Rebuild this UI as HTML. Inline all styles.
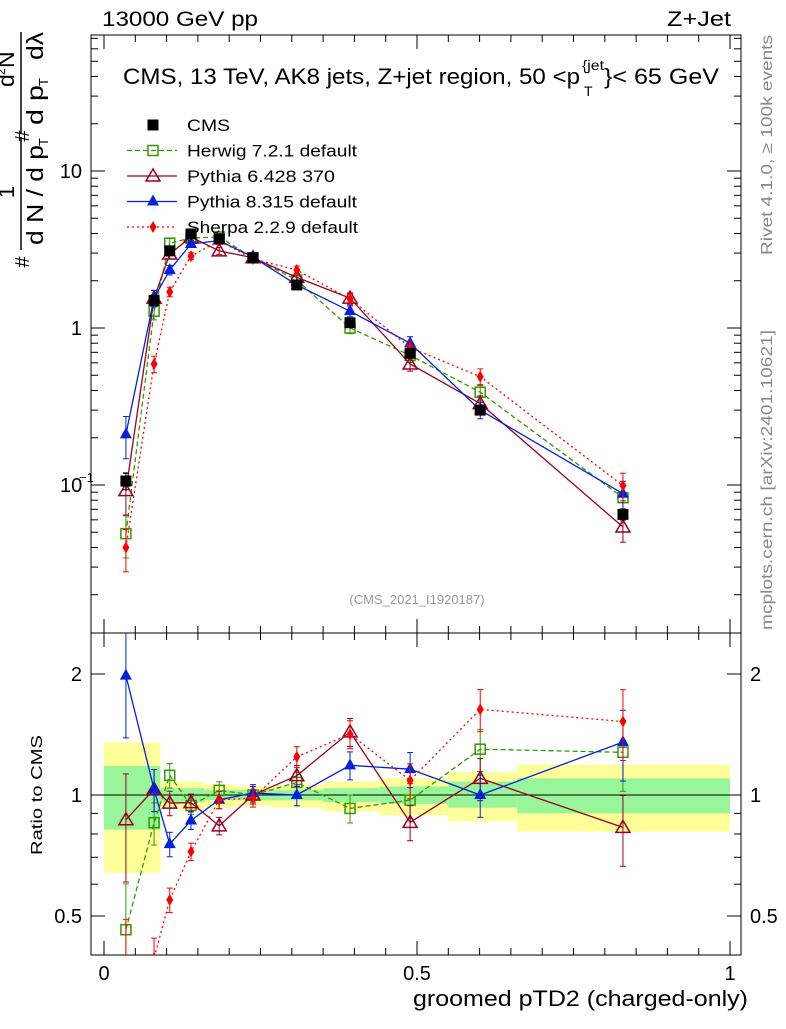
<!DOCTYPE html>
<html><head><meta charset="utf-8"><style>
body{margin:0;background:#fff;}
svg{font-family:"Liberation Sans",Arial,sans-serif;}
</style></head><body>
<svg id="c" width="786" height="1024" viewBox="0 0 786 1024"></svg>
<script>
const xs=[0.035,0.080,0.105,0.139,0.184,0.238,0.308,0.393,0.489,0.601,0.829];
const cms=[0.106,1.5,3.1,3.97,3.7,2.8,1.88,1.08,0.69,0.30,0.065];
const herwig=[0.049,1.28,3.47,3.74,3.8,2.8,2.02,1.0,0.67,0.39,0.083];
const py6=[0.092,1.55,2.96,3.8,3.1,2.8,2.1,1.55,0.59,0.33,0.054];
const py8=[0.21,1.55,2.34,3.43,3.6,2.83,1.88,1.28,0.80,0.30,0.088];
const sherpa=[0.040,0.59,1.7,2.87,3.6,2.75,2.34,1.53,0.75,0.49,0.099];
const relErr=[0.3,0.12,0.07,0.05,0.05,0.05,0.06,0.08,0.1,0.12,0.2];
const bandEdges=[0,0.09,0.12,0.16,0.21,0.27,0.35,0.44,0.55,0.66,1.0];
const yellowHi=[1.35,1.08,1.08,1.06,1.05,1.06,1.08,1.10,1.14,1.19];
const yellowLo=[0.64,0.93,0.92,0.93,0.94,0.93,0.91,0.89,0.86,0.81];
const greenHi=[1.18,1.04,1.04,1.03,1.03,1.03,1.04,1.05,1.08,1.10];
const greenLo=[0.82,0.96,0.96,0.97,0.97,0.97,0.96,0.95,0.93,0.90];
const NS='http://www.w3.org/2000/svg';const svg=document.getElementById('c');
function el(t,a,p){const e=document.createElementNS(NS,t);for(const k in a)e.setAttribute(k,a[k]);(p||svg).appendChild(e);return e;}
const X=v=>104+626*v;
const Y=v=>328-157*Math.log10(v);
const R=v=>795-402*Math.log10(v);
const L=91,Rr=741,T=35,M=633,B=955;
const bands=el('g',{});
for(let i=0;i<yellowHi.length;i++){
 const x0=X(bandEdges[i]),x1=X(bandEdges[i+1]);
 el('rect',{x:x0,y:R(yellowHi[i]),width:x1-x0,height:R(yellowLo[i])-R(yellowHi[i]),fill:'#ffff99'},bands);
 el('rect',{x:x0,y:R(greenHi[i]),width:x1-x0,height:R(greenLo[i])-R(greenHi[i]),fill:'#99f599'},bands);
}
el('line',{x1:L,x2:Rr,y1:R(1),y2:R(1),stroke:'#000','stroke-width':1});
const f1=el('rect',{x:L,y:T,width:Rr-L,height:M-T,fill:'none',stroke:'#000'});
const f2=el('rect',{x:L,y:M,width:Rr-L,height:B-M,fill:'none',stroke:'#000'});
for(let i=0;i<=20;i++){const v=i*0.05,x=X(v),big=i%10==0,len=big?14:7;
 [[T,1],[M,-1],[M,1],[B,-1]].forEach(([y,d])=>el('line',{x1:x,x2:x,y1:y,y2:y+d*len,stroke:'#000'}));}
['0','0.5','1'].forEach((s,i)=>{const t=el('text',{x:X(i*0.5),y:980,'font-size':20,'text-anchor':'middle'});t.textContent=s;});
for(let d=-2;d<=1;d++)for(let m=1;m<10;m++){const v=m*Math.pow(10,d),y=Y(v);if(y<T||y>M)continue;const len=m==1?14:7;
 el('line',{x1:L,x2:L+len,y1:y,y2:y,stroke:'#000'});el('line',{x1:Rr,x2:Rr-len,y1:y,y2:y,stroke:'#000'});}
[['10',10],['1',1]].forEach(([s,v])=>{const t=el('text',{x:82,y:Y(v)+7,'font-size':20,'text-anchor':'end'});t.textContent=s;});
{const t=el('text',{x:60,y:Y(0.1)+7,'font-size':20});t.textContent='10';
 const s=el('text',{x:79,y:Y(0.1)-3,'font-size':13});s.textContent='−1';}
const rt=[0.4,0.5,0.6,0.7,0.8,0.9,1,2];
rt.forEach(v=>{const y=R(v);if(y>B||y<M)return;const len=(v==0.5||v==1||v==2)?14:7;
 el('line',{x1:L,x2:L+len,y1:y,y2:y,stroke:'#000'});el('line',{x1:Rr,x2:Rr-len,y1:y,y2:y,stroke:'#000'});});
[['0.5',0.5],['1',1],['2',2]].forEach(([s,v])=>{[[82,'end'],[750,'start']].forEach(([x,a])=>{const t=el('text',{x:x,y:R(v)+7,'font-size':20,'text-anchor':a});t.textContent=s;});});
const series=[
 {n:'herwig',d:herwig,c:'#339900',dash:'5,3',m:'osq'},
 {n:'pythia6',d:py6,c:'#990022',dash:'',m:'otri'},
 {n:'pythia8',d:py8,c:'#0022dd',dash:'',m:'tri'},
 {n:'sherpa',d:sherpa,c:'#ff0000',dash:'2,3',m:'dia'}];
function marker(g,m,x,y,c){
 if(m=='sq')el('rect',{x:x-5.5,y:y-5.5,width:11,height:11,fill:c},g);
 if(m=='osq')el('rect',{x:x-5,y:y-5,width:10,height:10,fill:'none',stroke:c,'stroke-width':1.5},g);
 if(m=='otri')el('polygon',{points:`${x},${y-7} ${x-7},${y+5} ${x+7},${y+5}`,fill:'none',stroke:c,'stroke-width':1.5},g);
 if(m=='tri')el('polygon',{points:`${x},${y-7} ${x-6},${y+4} ${x+6},${y+4}`,fill:c},g);
 if(m=='dia')el('polygon',{points:`${x},${y-6} ${x-3.5},${y} ${x},${y+6} ${x+3.5},${y}`,fill:c},g);
}
function errbar(g,x,y1,y2,c){el('line',{x1:x,x2:x,y1:y1,y2:y2,stroke:c},g);el('line',{x1:x-3,x2:x+3,y1:y1,y2:y1,stroke:c},g);el('line',{x1:x-3,x2:x+3,y1:y2,y2:y2,stroke:c},g);}
function clipY(y,lo,hi){return Math.max(lo,Math.min(hi,y));}
series.forEach(s=>{
 const g=el('g',{});
 const pts=s.d.map((v,i)=>X(xs[i])+','+Y(v)).join(' ');
 el('polyline',{points:pts,fill:'none',stroke:s.c,'stroke-width':1.3,'stroke-dasharray':s.dash},g);
 const rv=s.d.map((v,i)=>v/cms[i]);
 const rpts=rv.map((v,i)=>X(xs[i])+','+clipY(R(v),M,B+30)).join(' ');
 const cp=el('clipPath',{id:'cl'+s.n});el('rect',{x:L,y:M,width:Rr-L,height:B-M},cp);
 const g2=el('g',{'clip-path':'url(#cl'+s.n+')'},g);
 el('polyline',{points:rpts,fill:'none',stroke:s.c,'stroke-width':1.3,'stroke-dasharray':s.dash},g2);
 s.d.forEach((v,i)=>{const x=X(xs[i]),e=relErr[i];
  errbar(g,x,Y(v*(1+e)),Y(v*(1-e)),s.c);marker(g,s.m,x,Y(v),s.c);
  errbar(g2,x,R(rv[i]*(1+e)),R(rv[i]*(1-e)),s.c);marker(g2,s.m,x,R(rv[i]),s.c);});
});
{const g=el('g',{});
 cms.forEach((v,i)=>{const x=X(xs[i]);errbar(g,x,Y(v*(1+relErr[i]*0.4)),Y(v*(1-relErr[i]*0.4)),'#000');marker(g,'sq',x,Y(v),'#000');});}
const leg=[['CMS','#000','','sq',43],['Herwig 7.2.1 default','#339900','5,3','osq',170],['Pythia 6.428 370','#990022','','otri',148],['Pythia 8.315 default','#0022dd','','tri',170],['Sherpa 2.2.9 default','#ff0000','2,3','dia',171]];
leg.forEach((l,i)=>{const y=125+25.5*i;const g=el('g',{});
 if(i>0)el('line',{x1:127,x2:177,y1:y,y2:y,stroke:l[1],'stroke-width':1.3,'stroke-dasharray':l[2]},g);
 marker(g,l[3],153,y,l[1]);const t=el('text',{x:187,y:y+6,'font-size':17,textLength:l[4],lengthAdjust:'spacingAndGlyphs'},g);t.textContent=l[0];});
function txt(s,a,name){const t=el('text',a);t.textContent=s;return t;}
txt('13000 GeV pp',{x:102,y:26,'font-size':21,textLength:156,lengthAdjust:'spacingAndGlyphs'},'energy-label');
txt('Z+Jet',{x:667,y:26,'font-size':21,textLength:64,lengthAdjust:'spacingAndGlyphs'},'process-label');
txt('CMS, 13 TeV, AK8 jets, Z+jet region, 50 <p',{x:123,y:84,'font-size':22,textLength:457,lengthAdjust:'spacingAndGlyphs'},'plot-title');
txt('{jet',{x:582,y:70,'font-size':14,textLength:22,lengthAdjust:'spacingAndGlyphs'},'title-superscript');
txt('T',{x:584,y:96,'font-size':14},'title-subscript');
txt('}< 65 GeV',{x:604,y:84,'font-size':22,textLength:115,lengthAdjust:'spacingAndGlyphs'},'title-end');
txt('(CMS_2021_I1920187)',{x:417,y:604,'font-size':13,fill:'#999','text-anchor':'middle'},'analysis-id');
txt('groomed pTD2 (charged-only)',{x:413,y:1006,'font-size':22,textLength:335,lengthAdjust:'spacingAndGlyphs'},'x-axis-title');
txt('Ratio to CMS',{x:-855,y:42,'font-size':16,textLength:120,lengthAdjust:'spacingAndGlyphs',transform:'rotate(-90)'},'ratio-axis-title');
txt('Rivet 4.1.0, ≥ 100k events',{x:-255,y:772,'font-size':16,fill:'#888',textLength:220,lengthAdjust:'spacingAndGlyphs',transform:'rotate(-90)'},'rivet-label');
txt('mcplots.cern.ch [arXiv:2401.10621]',{x:-630,y:772,'font-size':16,fill:'#888',textLength:300,lengthAdjust:'spacingAndGlyphs',transform:'rotate(-90)'},'mcplots-label');
const yt=el('g',{transform:'rotate(-90)'});
function rt2(s,a,b,sz,anchor,len){const t=el('text',{x:a,y:b,'font-size':sz,'text-anchor':anchor||'start'},yt);if(len){t.setAttribute('textLength',len);t.setAttribute('lengthAdjust','spacingAndGlyphs');}t.textContent=s;return t;}
rt2('#',-262,29,20,'middle');
rt2('1',-192,14,22,'middle');
el('line',{x1:-250,x2:-137,y1:21,y2:21,stroke:'#000','stroke-width':1.5},yt);
rt2('d N / d p',-245,43,23,'start',100);
rt2('T',-146,48,13,'start');
rt2('#',-136,29,20,'middle');
el('line',{x1:-133,x2:-32,y1:21,y2:21,stroke:'#000','stroke-width':1.5},yt);
rt2('d',-87,14,23,'start');
rt2('2',-75,5,12,'start');
rt2('N',-68,14,23,'start');
rt2('d p',-125,43,23,'start',40);
rt2('T',-86,48,13,'start');
rt2('dλ',-60,43,23,'start',28);
</script>
</body></html>
